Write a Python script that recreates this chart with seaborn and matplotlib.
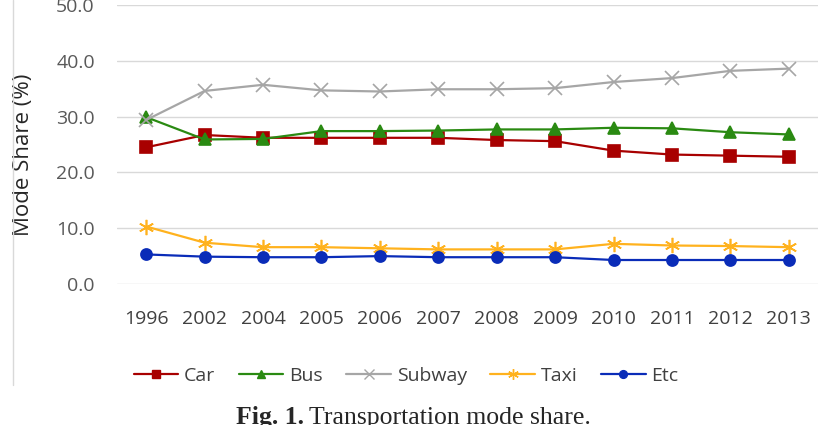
import numpy as np
import pandas as pd
import seaborn as sns
import matplotlib.pyplot as plt
from matplotlib.lines import Line2D

years = ['1996', '2002', '2004', '2005', '2006', '2007', '2008', '2009', '2010', '2011', '2012', '2013']
car = [24.5, 26.7, 26.2, 26.2, 26.2, 26.2, 25.8, 25.6, 23.9, 23.2, 23.0, 22.8]
bus = [29.9, 25.9, 26.0, 27.4, 27.4, 27.5, 27.7, 27.7, 28.0, 27.9, 27.2, 26.8]
subway = [29.4, 34.6, 35.7, 34.7, 34.5, 34.9, 34.9, 35.1, 36.2, 36.9, 38.2, 38.6]
taxi = [10.3, 7.4, 6.6, 6.6, 6.4, 6.2, 6.2, 6.2, 7.2, 6.9, 6.8, 6.6]
etc = [5.3, 4.9, 4.8, 4.8, 5.0, 4.8, 4.8, 4.8, 4.3, 4.3, 4.3, 4.3]

modes = ['Car', 'Bus', 'Subway', 'Taxi', 'Etc']
series = [car, bus, subway, taxi, etc]
colors = ['#A80000', '#2A8A12', '#A6A6A6', '#FFB21E', '#0A2CB8']
markers = ['s', '^', 'x', (6, 2, 0), 'o']
msizes = [9, 8, 10, 11, 8]

df = pd.DataFrame({
    'pos': np.tile(np.arange(len(years)), len(modes)),
    'share': np.concatenate(series),
    'mode': np.repeat(modes, len(years)),
})

sns.set_style('white')
plt.rcParams['font.family'] = ['Open Sans', 'DejaVu Sans']

fig = plt.figure(figsize=(8.29, 4.25), dpi=100)
ax = fig.add_axes([117 / 829, 1 - 284 / 425, 701 / 829, 279 / 425])

for m, c, mk, ms in zip(modes, colors, markers, msizes):
    sub = df[df['mode'] == m]
    sns.lineplot(data=sub, x='pos', y='share', ax=ax, color=c, marker=mk,
                 markersize=ms, markeredgecolor=c, markeredgewidth=1.2,
                 linewidth=1.6, label=m, legend=False)

ax.set_xlim(-0.5, len(years) - 0.5)
ax.set_ylim(0, 50)
ax.set_yticks(np.arange(0, 51, 10))
ax.set_yticklabels(['%.1f' % v for v in np.arange(0, 51, 10)])
ax.set_xticks(np.arange(len(years)))
ax.set_xticklabels(years)
ax.yaxis.grid(True, color='#D9D9D9', linewidth=1)
ax.xaxis.grid(False)
for s in ax.spines.values():
    s.set_visible(False)
ax.tick_params(axis='y', length=0, pad=16, labelsize=14, labelcolor='#595959')
ax.tick_params(axis='x', length=0, pad=19, labelsize=14, labelcolor='#404040')
ax.set_xlabel('')
ax.set_ylabel('Mode Share (%)', fontsize=16, color='#262626')
ax.yaxis.set_label_coords((34 - 117) / 701, 1 - (155 - 5) / 279)

handles = [Line2D([], [], color=c, marker=mk, markersize=ms * 0.7, markeredgecolor=c,
                  linewidth=1.6) for c, mk, ms in zip(colors, markers, msizes)]
fig.legend(handles, modes, loc='center', bbox_to_anchor=(406 / 829, 1 - 376 / 425),
           ncol=5, frameon=False, fontsize=14, handlelength=2.3, handletextpad=0.3,
           columnspacing=1.2, labelcolor='#404040', borderpad=0)

fig.add_artist(Line2D([13 / 829, 13 / 829], [1 - 385 / 425, 1.0], color='#D9D9D9',
                      linewidth=1, transform=fig.transFigure))

fig.text(304 / 829, 1 - 424 / 425, 'Fig. 1.', ha='right', va='baseline',
         fontsize=18.5, fontweight='bold', family='Liberation Serif')
fig.text(309 / 829, 1 - 424 / 425, 'Transportation mode share.', ha='left', va='baseline',
         fontsize=18.5, family='Liberation Serif')

fig.savefig('out.png', dpi=100)
